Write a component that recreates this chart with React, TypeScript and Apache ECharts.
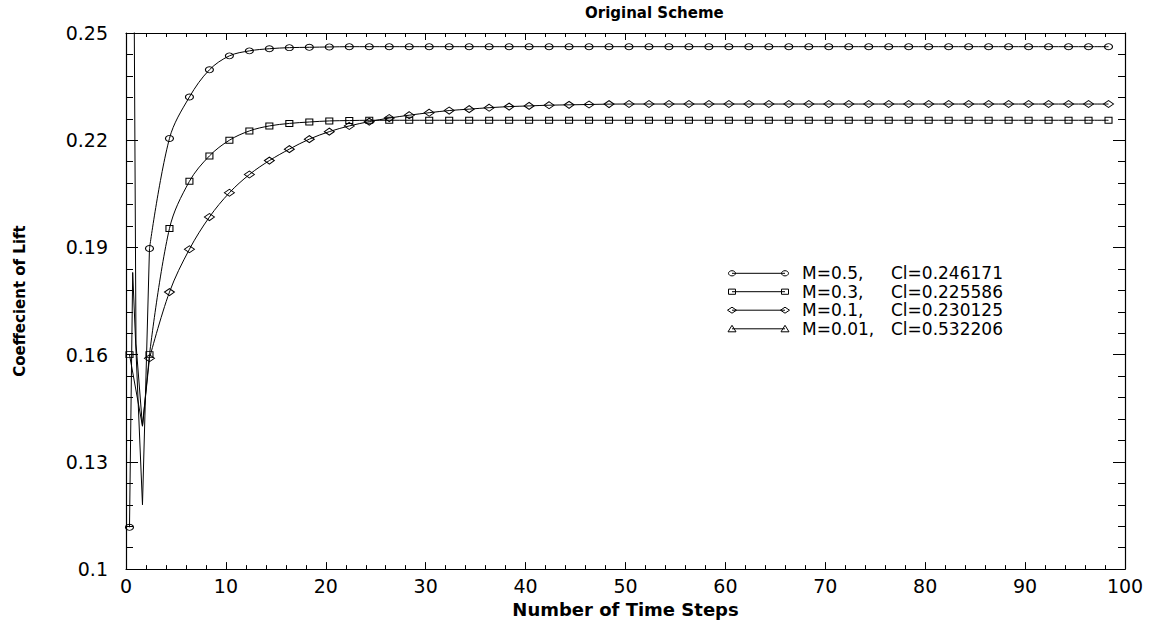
import React, { useEffect, useRef } from "react";
import * as echarts from "echarts";

// Marker time positions (every 2 time steps)
const markerT = [
  0.35, 2.35, 4.35, 6.35, 8.35, 10.35, 12.35, 14.35, 16.35, 18.35,
  20.35, 22.35, 24.35, 26.35, 28.35, 30.35, 32.35, 34.35, 36.35, 38.35,
  40.35, 42.35, 44.35, 46.35, 48.35, 50.35, 52.35, 54.35, 56.35, 58.35,
  60.35, 62.35, 64.35, 66.35, 68.35, 70.35, 72.35, 74.35, 76.35, 78.35,
  80.35, 82.35, 84.35, 86.35, 88.35, 90.35, 92.35, 94.35, 96.35, 98.35,
];

// M=0.5 (circles)
const circleVals = [
  0.1117, 0.1897, 0.2205, 0.2321, 0.2397, 0.2436, 0.245, 0.2456, 0.2459, 0.246,
  0.2461, 0.246171, 0.246171, 0.246171, 0.246171, 0.246171, 0.246171, 0.246171, 0.246171, 0.246171,
  0.246171, 0.246171, 0.246171, 0.246171, 0.246171, 0.246171, 0.246171, 0.246171, 0.246171, 0.246171,
  0.246171, 0.246171, 0.246171, 0.246171, 0.246171, 0.246171, 0.246171, 0.246171, 0.246171, 0.246171,
  0.246171, 0.246171, 0.246171, 0.246171, 0.246171, 0.246171, 0.246171, 0.246171, 0.246171, 0.246171,
];
const circleEarly = [
  [0.67, 0.183],
  [1.65, 0.118],
];

// M=0.3 (squares)
const squareVals = [
  0.16, 0.16, 0.1953, 0.2085, 0.2156, 0.22, 0.2226, 0.224, 0.2247, 0.2251,
  0.2254, 0.2255, 0.225586, 0.225586, 0.225586, 0.225586, 0.225586, 0.225586, 0.225586, 0.225586,
  0.225586, 0.225586, 0.225586, 0.225586, 0.225586, 0.225586, 0.225586, 0.225586, 0.225586, 0.225586,
  0.225586, 0.225586, 0.225586, 0.225586, 0.225586, 0.225586, 0.225586, 0.225586, 0.225586, 0.225586,
  0.225586, 0.225586, 0.225586, 0.225586, 0.225586, 0.225586, 0.225586, 0.225586, 0.225586, 0.225586,
];
const squareEarly = [[1.65, 0.14]];

// M=0.1 (diamonds)
const diamondVals = [
  0.5, 0.159, 0.1775, 0.1895, 0.1985, 0.2053, 0.2104, 0.2143, 0.2175, 0.2203,
  0.2224, 0.224, 0.2252, 0.2262, 0.227, 0.2277, 0.2283, 0.2287, 0.2291, 0.2294,
  0.2296, 0.2298, 0.2299, 0.23, 0.2301, 0.230125, 0.230125, 0.230125, 0.230125, 0.230125,
  0.230125, 0.230125, 0.230125, 0.230125, 0.230125, 0.230125, 0.230125, 0.230125, 0.230125, 0.230125,
  0.230125, 0.230125, 0.230125, 0.230125, 0.230125, 0.230125, 0.230125, 0.230125, 0.230125, 0.230125,
];
const diamondEarly = [
  [1.0, 0.163],
  [1.65, 0.14],
];

// M=0.01 (triangles) - stays above the plotted range
const triangleT = [0.35, 98.35];
const triangleVals = [0.53, 0.532206];

const legendNames = ["M=0.5,", "M=0.3,", "M=0.1,", "M=0.01,"];
const legendCl = ["Cl=0.246171", "Cl=0.225586", "Cl=0.230125", "Cl=0.532206"];
const legendSymbols = ["circle", "rect", "diamond", "triangle"];

const FONT = "DejaVu Sans";
const BLACK = "#000";

const symbolSizes: Record<string, number[]> = {
  circle: [8, 6],
  rect: [7, 6],
  diamond: [10, 7],
  triangle: [8, 7],
};

const markerStyle = {
  color: "rgba(0,0,0,0)",
  borderColor: BLACK,
  borderWidth: 1,
};

function buildSeries(name: string, vals: number[], early: number[][], symbol: string) {
  const earlyData = [
    { value: [markerT[0], vals[0]] },
    ...early.map((p) => ({ value: p, symbol: "none" })),
    { value: [markerT[1], vals[1]], symbol: "none" },
  ];
  const mainData = markerT.slice(1).map((t, i) => [t, vals[i + 1]]);
  const common = {
    type: "line",
    name,
    symbol,
    symbolSize: symbolSizes[symbol],
    showSymbol: true,
    showAllSymbol: true,
    lineStyle: { color: BLACK, width: 1 },
    itemStyle: markerStyle,
    clip: true,
    silent: true,
    emphasis: { disabled: true },
  };
  return [
    { ...common, data: earlyData, smooth: false },
    { ...common, data: mainData, smooth: 0.35 },
  ];
}

function legendMarker(kind: string, cx: number, cy: number) {
  const style = { fill: "rgba(0,0,0,0)", stroke: BLACK, lineWidth: 1 };
  if (kind === "circle") {
    return { type: "ellipse", shape: { cx, cy, rx: 3.5, ry: 2.6 }, style };
  }
  if (kind === "rect") {
    return { type: "rect", shape: { x: cx - 3.5, y: cy - 2.6, width: 7, height: 5.2 }, style };
  }
  if (kind === "diamond") {
    return {
      type: "polygon",
      shape: { points: [[cx - 4.5, cy], [cx, cy - 3], [cx + 4.5, cy], [cx, cy + 3]] },
      style,
    };
  }
  return {
    type: "polygon",
    shape: { points: [[cx - 4, cy + 3], [cx, cy - 3.5], [cx + 4, cy + 3]] },
    style,
  };
}

export default function App() {
  const ref = useRef<HTMLDivElement>(null);

  useEffect(() => {
    if (!ref.current) return;
    const chart = echarts.init(ref.current, undefined, { renderer: "svg" });

    const legendY = [273.3, 291.7, 310.2, 328.8];
    const legendGraphics: any[] = [];
    legendNames.forEach((nm, i) => {
      const y = legendY[i];
      legendGraphics.push({
        type: "line",
        shape: { x1: 732, y1: y, x2: 785, y2: y },
        style: { stroke: BLACK, lineWidth: 1 },
      });
      legendGraphics.push(legendMarker(legendSymbols[i], 732, y));
      legendGraphics.push(legendMarker(legendSymbols[i], 785, y));
      legendGraphics.push({
        type: "text",
        x: 802,
        y,
        style: {
          text: nm,
          fontSize: 17,
          fontFamily: FONT,
          fill: BLACK,
          align: "left",
          verticalAlign: "middle",
          textAlign: "left",
          textVerticalAlign: "middle",
        },
      });
      legendGraphics.push({
        type: "text",
        x: 891,
        y,
        style: {
          text: legendCl[i],
          fontSize: 17,
          fontFamily: FONT,
          fill: BLACK,
          align: "left",
          verticalAlign: "middle",
          textAlign: "left",
          textVerticalAlign: "middle",
        },
      });
    });

    const xCommon = {
      type: "value",
      min: 0,
      max: 100,
      interval: 10,
      axisLine: { show: true, onZero: false, lineStyle: { color: BLACK, width: 1.2 } },
      axisTick: { show: true, inside: true, length: 7, lineStyle: { color: BLACK } },
      minorTick: { show: true, splitNumber: 5, length: 4, lineStyle: { color: BLACK } },
      splitLine: { show: false },
      minorSplitLine: { show: false },
    };
    const yCommon = {
      type: "value",
      min: 0.1,
      max: 0.25,
      interval: 0.03,
      axisLine: { show: true, onZero: false, lineStyle: { color: BLACK, width: 1.2 } },
      axisTick: { show: true, inside: true, length: 12, lineStyle: { color: BLACK } },
      minorTick: { show: true, splitNumber: 5, length: 7, lineStyle: { color: BLACK } },
      splitLine: { show: false },
      minorSplitLine: { show: false },
    };

    const series: any[] = [
      ...buildSeries("M=0.5", circleVals, circleEarly, "circle"),
      ...buildSeries("M=0.3", squareVals, squareEarly, "rect"),
      ...buildSeries("M=0.1", diamondVals, diamondEarly, "diamond"),
      {
        type: "line",
        name: "M=0.01",
        data: triangleT.map((t, i) => [t, triangleVals[i]]),
        symbol: "triangle",
        symbolSize: symbolSizes.triangle,
        lineStyle: { color: BLACK, width: 1 },
        itemStyle: markerStyle,
        clip: true,
        silent: true,
      },
    ];

    chart.setOption({
      animation: false,
      backgroundColor: "#fff",
      textStyle: { fontFamily: FONT, color: BLACK },
      title: {
        text: "Original Scheme",
        left: 580,
        top: 0,
        textStyle: { fontFamily: FONT, fontWeight: "bold", fontSize: 15, color: BLACK },
      },
      grid: { left: 126, right: 31, top: 33, bottom: 50, containLabel: false },
      xAxis: [
        {
          ...xCommon,
          position: "bottom",
          name: "Number of Time Steps",
          nameLocation: "middle",
          nameGap: 30,
          nameTextStyle: { fontFamily: FONT, fontWeight: "bold", fontSize: 18, color: BLACK },
          axisLabel: { show: true, margin: 7, fontSize: 19, fontFamily: FONT, color: BLACK },
        },
        {
          ...xCommon,
          position: "top",
          axisLabel: { show: false },
        },
      ],
      yAxis: [
        {
          ...yCommon,
          position: "left",
          name: "Coeffecient of Lift",
          nameLocation: "middle",
          nameGap: 99,
          nameTextStyle: { fontFamily: FONT, fontWeight: "bold", fontSize: 15, color: BLACK },
          axisLabel: { show: true, margin: 18, fontSize: 19, fontFamily: FONT, color: BLACK },
        },
        {
          ...yCommon,
          position: "right",
          axisLabel: { show: false },
        },
      ],
      series,
      graphic: legendGraphics,
    });

    return () => {
      chart.dispose();
    };
  }, []);

  return (
    <div
      ref={ref}
      style={{ position: "fixed", left: 0, top: 0, width: 1156, height: 623, background: "#fff" }}
    />
  );
}
